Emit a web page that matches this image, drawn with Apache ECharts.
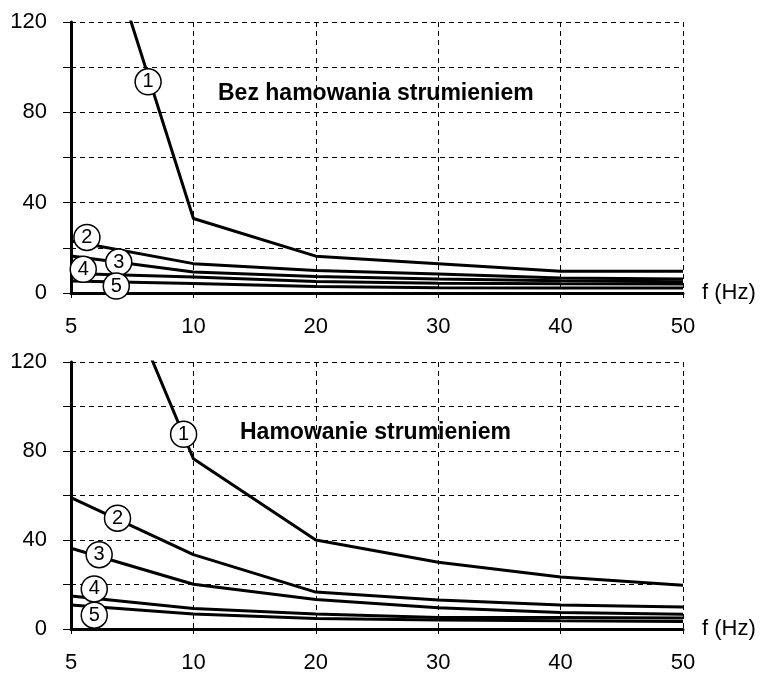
<!DOCTYPE html>
<html>
<head>
<meta charset="utf-8">
<script src="https://cdn.jsdelivr.net/npm/echarts@6/dist/echarts.min.js"></script>
<style>
    html, body { margin: 0; padding: 0; background: #fff; }
    #chart { width: 763px; height: 674px; }
</style>
</head>
<body>
<div id="chart"></div>
<script>
// x positions are evenly spaced, one per frequency label
const freqLabels = ['5', '10', '20', '30', '40', '50']
const yLabelStep = 40

// Bez hamowania strumieniem
const topCurve1 = [204, 33, 16.3, 13, 9.6, 9.6]
const topCurve2 = [23, 13, 10, 8.4, 6.6, 6.2]
const topCurve3 = [16.4, 9.3, 7.3, 6.2, 5.4, 5]
const topCurve4 = [8.6, 7.1, 5.1, 4.3, 4.1, 4]
const topCurve5 = [5.3, 4.2, 2.9, 2.3, 2.2, 2.2]
const topMarkers = [[0.63, 93.5, '1'], [0.13, 24.6, '2'], [0.39, 13.7, '3'], [0.1, 10.5, '4'], [0.37, 3.1, '5']]

// Hamowanie strumieniem
const botCurve1 = [208, 76.5, 40, 30, 23.4, 19.7]
const botCurve2 = [59, 33.4, 16.6, 13, 10.8, 9.9]
const botCurve3 = [36.3, 20.1, 13.3, 9.6, 7.4, 6.6]
const botCurve4 = [14.8, 9.2, 6.7, 5.2, 5.2, 4.9]
const botCurve5 = [10.8, 6.7, 4.7, 4.1, 3.7, 3.4]
const botMarkers = [[0.92, 87.5, '1'], [0.38, 49.8, '2'], [0.23, 33.4, '3'], [0.19, 18, '4'], [0.19, 6.2, '5']]

const FONT = '"Liberation Sans", Arial, sans-serif'
const dash = [5, 4]

const chart = echarts.init(document.getElementById('chart'))

const makeX = (idx) => ({
    type: 'value',
    gridIndex: idx,
    min: 0,
    max: freqLabels.length - 1,
    interval: 1,
    name: 'f (Hz)',
    nameLocation: 'end',
    nameGap: 19,
    nameTextStyle: { fontFamily: FONT, fontSize: 22, color: '#000', verticalAlign: 'middle', padding: [6, 0, 0, 0] },
    axisLine: { show: true, lineStyle: { color: '#000', width: 3 } },
    axisTick: { show: true, length: 9, lineStyle: { color: '#000', width: 1, type: dash } },
    axisLabel: {
        margin: 23,
        fontFamily: FONT,
        fontSize: 22,
        color: '#000',
        formatter: (v) => freqLabels[v] || ''
    },
    splitLine: { show: true, lineStyle: { color: '#000', width: 1, type: dash } }
})

const makeY = (idx) => ({
    type: 'value',
    gridIndex: idx,
    min: 0,
    max: 120,
    interval: 20,
    axisLine: { show: true, lineStyle: { color: '#000', width: 3 } },
    axisTick: { show: true, length: 8, lineStyle: { color: '#000', width: 1 } },
    axisLabel: {
        margin: 24,
        fontFamily: FONT,
        fontSize: 22,
        color: '#000',
        formatter: (v) => (v % yLabelStep === 0 ? String(v) : '')
    },
    splitLine: { show: true, lineStyle: { color: '#000', width: 1, type: dash } }
})

const curve = (idx, values) => ({
    type: 'line',
    xAxisIndex: idx,
    yAxisIndex: idx,
    data: values.map((v, i) => [i, v]),
    symbol: 'none',
    clip: true,
    lineStyle: { color: '#000', width: 3 },
    z: 3
})

const markers = (idx, list) => ({
    type: 'scatter',
    xAxisIndex: idx,
    yAxisIndex: idx,
    data: list.map((m) => ({ value: [m[0], m[1]], label: { formatter: m[2] } })),
    symbol: 'circle',
    symbolSize: 26,
    itemStyle: { color: '#fff', borderColor: '#000', borderWidth: 1.5, opacity: 1 },
    label: { show: true, position: 'inside', fontFamily: FONT, fontSize: 20, color: '#000' },
    z: 5
})

let option = {
    animation: false,
    backgroundColor: '#fff',
    title: [
        {
            text: 'Bez hamowania strumieniem',
            left: 213,
            top: 77,
            textStyle: { fontFamily: FONT, fontSize: 23, fontWeight: 'bold', color: '#000' }
        },
        {
            text: 'Hamowanie strumieniem',
            left: 235,
            top: 416,
            textStyle: { fontFamily: FONT, fontSize: 23, fontWeight: 'bold', color: '#000' }
        }
    ],
    grid: [
        { left: 71, width: 612, top: 22, height: 271 },
        { left: 71, width: 612, top: 362, height: 272 }
    ],
    xAxis: [makeX(0), makeX(1)],
    yAxis: [makeY(0), makeY(1)],
    series: [
        curve(0, topCurve1),
        curve(0, topCurve2),
        curve(0, topCurve3),
        curve(0, topCurve4),
        curve(0, topCurve5),
        markers(0, topMarkers),
        curve(1, botCurve1),
        curve(1, botCurve2),
        curve(1, botCurve3),
        curve(1, botCurve4),
        curve(1, botCurve5),
        markers(1, botMarkers)
    ]
}
chart.setOption(option)
</script>
</body>
</html>
